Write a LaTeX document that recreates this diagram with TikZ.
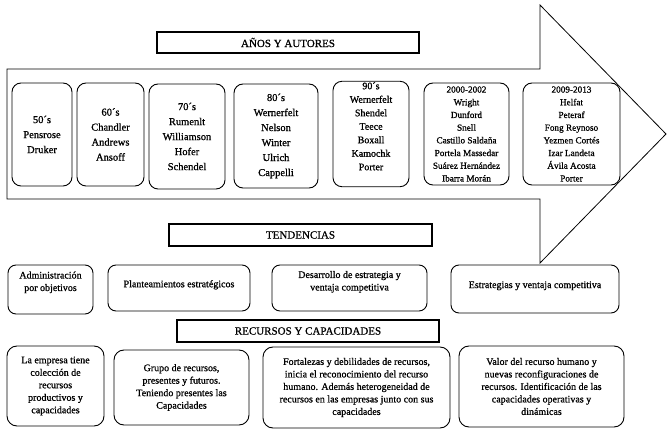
\documentclass[tikz,border=0pt]{standalone}
\usepackage{fontspec}
\setmainfont{Liberation Serif}[FakeBold=0.9]
\usetikzlibrary{positioning}

\begin{document}
\begin{tikzpicture}[
  x=1pt, y=-1pt,
  line join=miter,
  titlebox/.style={draw, line width=1.3pt, minimum height=21pt, inner sep=1pt,
    font=\fontsize{11}{12}\selectfont},
  yearbox/.style={draw, line width=0.9pt, rounded corners=9pt, align=center, inner sep=1pt,
    font=\fontsize{10.5}{15}\selectfont},
  smallyear/.style={yearbox, font=\fontsize{9.2}{12.7}\selectfont},
  trendbox/.style={draw, line width=0.9pt, rounded corners=8pt, align=center, inner sep=2pt,
    font=\fontsize{10}{12.5}\selectfont},
  resbox/.style={trendbox, rounded corners=10pt}
]
\useasboundingbox (0,0) rectangle (672,435);

\draw[line width=0.8pt] (7,69) -- (540,69) -- (540,5) -- (666,134) -- (540,263)
  -- (540,199) -- (7,199) -- cycle;

\node[titlebox, minimum width=262pt] (autores) at (288,42.5) {AÑOS Y AUTORES};

\node[yearbox, minimum width=60pt, minimum height=103pt] (s50) at (42,134.5)
  {50´s\\Pensrose\\Druker};
\node[yearbox, minimum width=67pt, minimum height=103pt] (s60) at (110.5,134.5)
  {60´s\\Chandler\\Andrews\\Ansoff};
\node[yearbox, minimum width=76pt, minimum height=105pt] (s70) at (187,136.5)
  {70´s\\Rumenlt\\Williamson\\Hofer\\Schendel};
\node[yearbox, minimum width=84pt, minimum height=104pt] (s80) at (276,136)
  {80´s\\Wernerfelt\\Nelson\\Winter\\Ulrich\\Cappelli};
\node[yearbox, minimum width=76pt, minimum height=102pt,
  font=\fontsize{10}{13.5}\selectfont] (s90) at (371,134)
  {90´s\\Wernerfelt\\Shendel\\Teece\\Boxall\\Kamochk\\Porter\\[2pt]~};
\node[smallyear, minimum width=85pt, minimum height=102pt] (s2000) at (466.5,134)
  {2000-2002\\Wright\\Dunford\\Snell\\Castillo Saldaña\\Portela Massedar\\Suárez Hernández\\Ibarra Morán};
\node[smallyear, minimum width=97pt, minimum height=102pt] (s2009) at (571.5,134)
  {2009-2013\\Helfat\\Peteraf\\Fong Reynoso\\Yezmen Cortés\\Izar Landeta\\Ávila Acosta\\Porter};

\node[titlebox, minimum width=263pt, minimum height=22pt] (tendencias) at (300.5,235) {TENDENCIAS};

\node[trendbox, minimum width=85pt, minimum height=49pt] (admin) at (50.5,289.5)
  {Administración\\por objetivos\\[4pt]~};
\node[trendbox, minimum width=142pt, minimum height=46pt] (plant) at (179,288)
  {Planteamientos estratégicos\\[-4pt]~};
\node[trendbox, minimum width=155pt, minimum height=46pt] (desarrollo) at (349.5,288)
  {Desarrollo de estrategia y\\ventaja competitiva\\[2pt]~};
\node[trendbox, minimum width=168pt, minimum height=48pt] (estrategias) at (535,289)
  {Estrategias y ventaja competitiva\\[-4pt]~};

\node[titlebox, minimum width=262pt, minimum height=22pt] (recursos) at (308,331) {RECURSOS Y CAPACIDADES};

\node[resbox, minimum width=97pt, minimum height=80pt] (rc1) at (55.5,386)
  {La empresa tiene\\colección de\\recursos\\productivos y\\capacidades};
\node[resbox, minimum width=135pt, minimum height=75pt] (rc2) at (181.5,387.5)
  {Grupo de recursos,\\presentes y futuros.\\Teniendo presentes las\\Capacidades};
\node[resbox, minimum width=187pt, minimum height=81pt] (rc3) at (356.5,387.5)
  {Fortalezas y debilidades de recursos,\\inicia el reconocimiento del recurso\\humano. Además heterogeneidad de\\recursos en las empresas junto con sus\\capacidades};
\node[resbox, minimum width=165pt, minimum height=81pt] (rc4) at (541.5,386.5)
  {Valor del recurso humano y\\nuevas reconfiguraciones de\\recursos. Identificación de las\\capacidades operativas y\\dinámicas};
\end{tikzpicture}
\end{document}
